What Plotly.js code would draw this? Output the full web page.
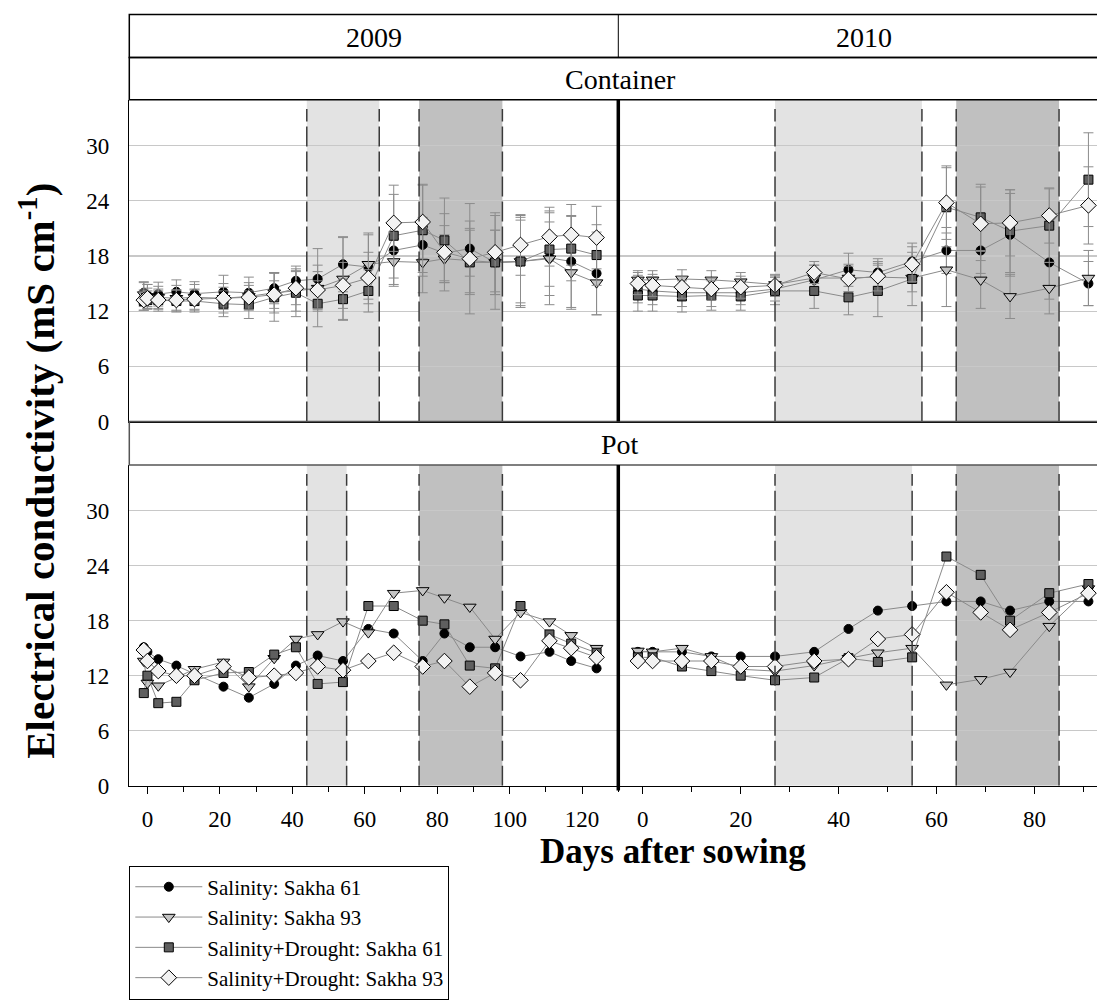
<!DOCTYPE html>
<html>
<head>
<meta charset="utf-8">
<script src="https://cdn.plot.ly/plotly-3.0.1.min.js"></script>
<style>html,body{margin:0;padding:0;background:#fff;}#chart{width:1097px;height:1000px;}</style>
</head>
<body>
<div id="chart"></div>
<script>
// ---------------- DATA ----------------
const seriesNames = ["Salinity: Sakha 61", "Salinity: Sakha 93", "Salinity+Drought: Sakha 61", "Salinity+Drought: Sakha 93"];
const panelStrips = ["Container", "Pot"];
const yearStrips = ["2009", "2010"];
const xTitle = "Days after sowing";
const yTitle = "Electrical conductivity (mS cm<sup>-1</sup>)";

const days2009 = [-1, 0, 3, 8, 13, 21, 28, 35, 41, 47, 54, 61, 68, 76, 82, 89, 96, 103, 111, 117, 124];
const days2010 = [-1, 2, 8, 14, 20, 27, 35, 42, 48, 55, 62, 69, 75, 83, 91];

// Container 2009
const cont2009_sal61 = [14.0, 13.7, 13.85, 14.1, 13.9, 14.1, 14.0, 14.5, 15.3, 15.5, 17.1, 16.8, 18.6, 19.2, 18.3, 18.8, 17.3, 17.4, 17.8, 17.4, 16.1];
const cont2009_sal93 = [13.8, 13.6, 13.5, 13.4, 13.5, 13.4, 13.6, 14.0, 14.2, 14.5, 15.5, 17.1, 17.4, 17.3, 17.7, 17.5, 17.3, 17.4, 17.7, 16.2, 15.1];
const cont2009_sd61  = [13.1, 13.2, 13.2, 13.1, 13.1, 12.8, 12.7, 13.5, 14.0, 12.8, 13.3, 14.2, 20.2, 20.8, 19.7, 17.3, 17.3, 17.4, 18.7, 18.8, 18.1];
const cont2009_sd93  = [13.2, 13.4, 13.2, 13.2, 13.3, 13.4, 13.5, 13.8, 14.5, 14.3, 14.8, 15.6, 21.6, 21.7, 18.4, 17.7, 18.4, 19.2, 20.1, 20.3, 20.0];
const cont2009_sal61_err = [1.2, 1.2, 1.3, 1.3, 1.3, 1.8, 1.7, 1.7, 1.6, 3.3, 3.0, 3.5, 3.0, 3.0, 3.0, 3.0, 3.5, 4.8, 5.1, 5.0, 4.5];
const cont2009_sal93_err = [1.3, 1.3, 1.2, 1.4, 1.4, 1.6, 1.5, 2.2, 2.2, 2.5, 4.5, 3.4, 2.5, 3.3, 2.6, 3.5, 3.5, 5.0, 4.0, 4.0, 3.5];
const cont2009_sd61_err  = [1.0, 1.0, 1.2, 1.2, 1.2, 1.4, 1.5, 2.6, 2.6, 2.5, 2.2, 2.3, 5.5, 5.0, 4.6, 3.5, 5.1, 4.5, 4.0, 3.5, 3.3];
const cont2009_sd93_err  = [1.1, 1.1, 1.0, 1.1, 1.1, 1.2, 1.3, 1.5, 1.8, 2.0, 2.5, 2.8, 3.1, 4.0, 4.2, 6.0, 4.3, 3.3, 3.2, 3.3, 3.4];

// Container 2010
const cont2010_sal61 = [14.4, 14.2, 14.0, 14.0, 14.0, 14.4, 15.4, 16.5, 16.2, 17.4, 18.6, 18.6, 20.3, 17.3, 15.0];
const cont2010_sal93 = [15.4, 15.4, 15.5, 15.4, 15.2, 14.9, 15.6, 15.6, 15.7, 15.6, 16.5, 15.4, 13.6, 14.5, 15.6];
const cont2010_sd61  = [13.7, 13.7, 13.6, 13.7, 13.6, 14.2, 14.2, 13.5, 14.2, 15.5, 23.3, 22.2, 20.7, 21.3, 26.3];
const cont2010_sd93  = [15.0, 14.8, 14.6, 14.4, 14.6, 14.8, 16.2, 15.5, 15.8, 17.1, 23.8, 21.5, 21.6, 22.4, 23.5];
const cont2010_sal61_err = [1.5, 1.5, 1.5, 1.5, 1.3, 1.3, 1.6, 1.8, 1.5, 2.0, 2.5, 2.5, 4.5, 4.0, 2.4];
const cont2010_sal93_err = [1.0, 1.0, 1.0, 1.0, 1.0, 1.0, 1.4, 1.5, 1.5, 1.5, 4.0, 3.1, 2.4, 2.8, 3.0];
const cont2010_sd61_err  = [1.7, 1.7, 1.7, 1.6, 1.5, 1.5, 1.9, 1.9, 2.8, 2.9, 4.3, 3.6, 4.5, 4.0, 5.1];
const cont2010_sd93_err  = [1.2, 1.2, 1.2, 1.2, 1.2, 1.2, 1.2, 1.4, 1.6, 1.9, 4.0, 4.0, 3.6, 3.0, 4.2];

// Pot 2009
const pot2009_sal61 = [15.1, 14.6, 13.8, 13.1, 12.2, 10.8, 9.6, 11.1, 13.1, 14.2, 13.6, 17.1, 16.6, 13.6, 16.6, 15.1, 15.1, 14.1, 14.6, 13.6, 12.8];
const pot2009_sal93 = [13.6, 11.2, 10.9, 11.8, 12.7, 13.5, 10.8, 13.9, 16.0, 16.5, 17.9, 16.7, 21.0, 21.3, 20.5, 19.5, 16.0, 18.9, 17.9, 16.4, 15.0];
const pot2009_sd61  = [10.1, 12.0, 9.0, 9.15, 11.5, 12.3, 12.4, 14.3, 15.1, 11.1, 11.3, 19.6, 19.6, 18.0, 17.6, 13.1, 12.8, 19.6, 16.5, 15.5, 14.5];
const pot2009_sd93  = [14.8, 13.6, 12.5, 12.0, 12.0, 13.0, 11.8, 12.0, 12.3, 13.0, 12.6, 13.6, 14.5, 13.0, 13.6, 10.8, 12.3, 11.5, 15.8, 15.0, 14.0];

// Pot 2010
const pot2010_sal61 = [14.6, 14.6, 14.6, 14.1, 14.1, 14.1, 14.6, 17.1, 19.1, 19.6, 20.1, 20.1, 19.1, 20.1, 20.1];
const pot2010_sal93 = [14.7, 14.6, 15.0, 14.1, 12.7, 12.5, 13.1, 13.9, 14.5, 15.0, 11.0, 11.6, 12.4, 17.4, 21.5];
const pot2010_sd61  = [14.0, 14.0, 13.0, 12.5, 12.0, 11.5, 11.8, 13.9, 13.5, 14.0, 25.0, 23.0, 18.0, 21.0, 22.0];
const pot2010_sd93  = [13.6, 13.6, 13.6, 13.6, 13.0, 13.0, 13.6, 13.8, 16.0, 16.5, 21.1, 18.9, 17.0, 18.9, 21.0];

// Stress periods (days after sowing): [start, end]
const lightPeriods = {cont2009: [44, 64], cont2010: [27, 57], pot2009: [44, 55], pot2010: [27, 55]};
const darkPeriods  = {cont2009: [75, 98], cont2010: [64, 85], pot2009: [75, 98], pot2010: [64, 85]};

const yTicks = [0, 6, 12, 18, 24, 30];
const xTicks2009 = [0, 20, 40, 60, 80, 100, 120];
const xTicks2010 = [0, 20, 40, 60, 80];

// ---------------- STYLE ----------------
const FONT = "Liberation Serif, Times New Roman, serif";
const markerStyles = [
  {symbol: "circle", size: 9, color: "#000000", line: {color: "#000", width: 1}},
  {symbol: "triangle-down", size: 11, color: "#c4c4c4", line: {color: "#000", width: 1}},
  {symbol: "square", size: 9, color: "#5f5f5f", line: {color: "#000", width: 1}},
  {symbol: "diamond", size: 12, color: "#f2f2f2", line: {color: "#000", width: 1}}
];

const traces = [];
function addPanel(days, values, errors, xa, ya, showLegend) {
  values.forEach((v, i) => {
    const t = {
      type: "scatter", mode: "lines+markers",
      x: days, y: v, xaxis: xa, yaxis: ya,
      name: seriesNames[i], showlegend: showLegend, legendgroup: "g" + i,
      line: {color: "#8a8a8a", width: 1},
      marker: markerStyles[i],
      cliponaxis: false
    };
    if (errors) {
      t.error_y = {type: "data", array: errors[i], visible: true, color: "#8c8c8c", thickness: 1, width: 5};
    }
    traces.push(t);
  });
}
addPanel(days2009, [cont2009_sal61, cont2009_sal93, cont2009_sd61, cont2009_sd93],
  [cont2009_sal61_err, cont2009_sal93_err, cont2009_sd61_err, cont2009_sd93_err], "x", "y", true);
addPanel(days2010, [cont2010_sal61, cont2010_sal93, cont2010_sd61, cont2010_sd93],
  [cont2010_sal61_err, cont2010_sal93_err, cont2010_sd61_err, cont2010_sd93_err], "x2", "y", false);
addPanel(days2009, [pot2009_sal61, pot2009_sal93, pot2009_sd61, pot2009_sd93], null, "x3", "y2", false);
addPanel(days2010, [pot2010_sal61, pot2010_sal93, pot2010_sd61, pot2010_sd93], null, "x4", "y2", false);

// ---------------- LAYOUT ----------------
const W = 1097, H = 1000;
const px = v => v / W;
const py = v => 1 - v / H;
const xL = px(129.3), xMid = px(618.3);
const topDom = [py(427), py(101)];
const botDom = [py(796), py(471)];

const shapes = [];
function period(xref, yref, p, fill) {
  shapes.push({type: "rect", xref, yref, x0: p[0], x1: p[1], y0: 0, y1: 35, fillcolor: fill, line: {width: 0}, layer: "below"});
  [p[0], p[1]].forEach(d => shapes.push({type: "line", xref, yref, x0: d, x1: d, y0: 0, y1: 34, line: {color: "#3a3a3a", width: 1.5, dash: "20px,5px"}, layer: "above"}));
}
period("x", "y", lightPeriods.cont2009, "#e3e3e3");
period("x", "y", darkPeriods.cont2009, "#c0c0c0");
period("x2", "y", lightPeriods.cont2010, "#e3e3e3");
period("x2", "y", darkPeriods.cont2010, "#c0c0c0");
period("x3", "y2", lightPeriods.pot2009, "#e3e3e3");
period("x3", "y2", darkPeriods.pot2009, "#c0c0c0");
period("x4", "y2", lightPeriods.pot2010, "#e3e3e3");
period("x4", "y2", darkPeriods.pot2010, "#c0c0c0");

// strips
const stripLine = {color: "#000", width: 1.5};
shapes.push({type: "rect", xref: "paper", yref: "paper", x0: xL, x1: 1.02, y0: py(58.3), y1: py(14.7), line: stripLine, fillcolor: "rgba(0,0,0,0)"});
shapes.push({type: "line", xref: "paper", yref: "paper", x0: xMid, x1: xMid, y0: py(58.3), y1: py(14.7), line: {color: "#000", width: 1}});
shapes.push({type: "rect", xref: "paper", yref: "paper", x0: xL, x1: 1.02, y0: py(101), y1: py(58.3), line: stripLine, fillcolor: "rgba(0,0,0,0)"});
shapes.push({type: "rect", xref: "paper", yref: "paper", x0: xL, x1: 1.02, y0: py(471), y1: py(427), line: {color: "#555", width: 1.5}, fillcolor: "rgba(0,0,0,0)"});
// thick year divider
shapes.push({type: "line", xref: "paper", yref: "paper", x0: xMid, x1: xMid, y0: py(427), y1: py(101), line: {color: "#000", width: 3.5}});
shapes.push({type: "line", xref: "paper", yref: "paper", x0: xMid, x1: xMid, y0: py(801), y1: py(471), line: {color: "#000", width: 3.5}});

const stripFont = {family: FONT, size: 28, color: "#000"};
const annotations = [
  {text: yearStrips[0], xref: "paper", yref: "paper", x: px(374), y: py(38), xanchor: "center", yanchor: "middle", showarrow: false, font: stripFont},
  {text: yearStrips[1], xref: "paper", yref: "paper", x: px(864), y: py(38), xanchor: "center", yanchor: "middle", showarrow: false, font: stripFont},
  {text: panelStrips[0], xref: "paper", yref: "paper", x: px(620), y: py(81), xanchor: "center", yanchor: "middle", showarrow: false, font: stripFont},
  {text: panelStrips[1], xref: "paper", yref: "paper", x: px(620), y: py(450), xanchor: "center", yanchor: "middle", showarrow: false, font: stripFont},
  {text: "<b>" + yTitle + "</b>", xref: "paper", yref: "paper", x: px(37), y: py(477), xanchor: "center", yanchor: "middle", textangle: -90, showarrow: false, font: {family: FONT, size: 41, color: "#000"}},
  {text: "<b>" + xTitle + "</b>", xref: "paper", yref: "paper", x: px(673), y: py(863), xanchor: "center", yanchor: "middle", showarrow: false, font: {family: FONT, size: 35, color: "#000"}}
];

const tickFont = {family: FONT, size: 23, color: "#000"};
const xCommon = {showgrid: false, zeroline: false, showline: true, linecolor: "#000", linewidth: 1.5, tickfont: tickFont, fixedrange: true};
const yCommon = {range: [0, 35], tickvals: yTicks, showgrid: true, gridcolor: "#c8c8c8", gridwidth: 1.2, zeroline: false,
  showline: true, linecolor: "#000", linewidth: 1.5, ticks: "", ticklabelstandoff: 14, tickfont: tickFont, fixedrange: true};

const layout = {
  width: W, height: H,
  margin: {l: 0, r: 0, t: 0, b: 0},
  paper_bgcolor: "#fff", plot_bgcolor: "rgba(0,0,0,0)",
  font: {family: FONT, color: "#000"},
  showlegend: true,
  legend: {x: xL, y: py(877), xanchor: "left", yanchor: "top", bordercolor: "#000", borderwidth: 1, bgcolor: "#fff",
    font: {family: FONT, size: 21, color: "#000"}, itemwidth: 67, tracegroupgap: 0},
  xaxis: Object.assign({}, xCommon, {domain: [xL, xMid], range: [-5, 130], anchor: "y", showticklabels: false, ticks: ""}),
  xaxis2: Object.assign({}, xCommon, {domain: [xMid, 1], range: [-5, 92.75], anchor: "y", showticklabels: false, ticks: ""}),
  xaxis3: Object.assign({}, xCommon, {domain: [xL, xMid], range: [-5, 130], anchor: "y2", tickvals: xTicks2009,
    ticks: "outside", ticklen: 7, tickwidth: 1, tickcolor: "#000", ticklabelstandoff: 5,
    minor: {tickvals: [10, 30, 50, 70, 90, 110, 130], ticks: "outside", ticklen: 5, tickcolor: "#000", tickwidth: 1}}),
  xaxis4: Object.assign({}, xCommon, {domain: [xMid, 1], range: [-5, 92.75], anchor: "y2", tickvals: xTicks2010,
    ticks: "outside", ticklen: 7, tickwidth: 1, tickcolor: "#000", ticklabelstandoff: 5,
    minor: {tickvals: [10, 30, 50, 70, 90], ticks: "outside", ticklen: 5, tickcolor: "#000", tickwidth: 1}}),
  yaxis: Object.assign({}, yCommon, {domain: topDom, anchor: "x"}),
  yaxis2: Object.assign({}, yCommon, {domain: botDom, anchor: "x3"}),
  shapes: shapes,
  annotations: annotations
};

Plotly.newPlot("chart", traces, layout, {displayModeBar: false, staticPlot: true});
</script>
</body>
</html>
